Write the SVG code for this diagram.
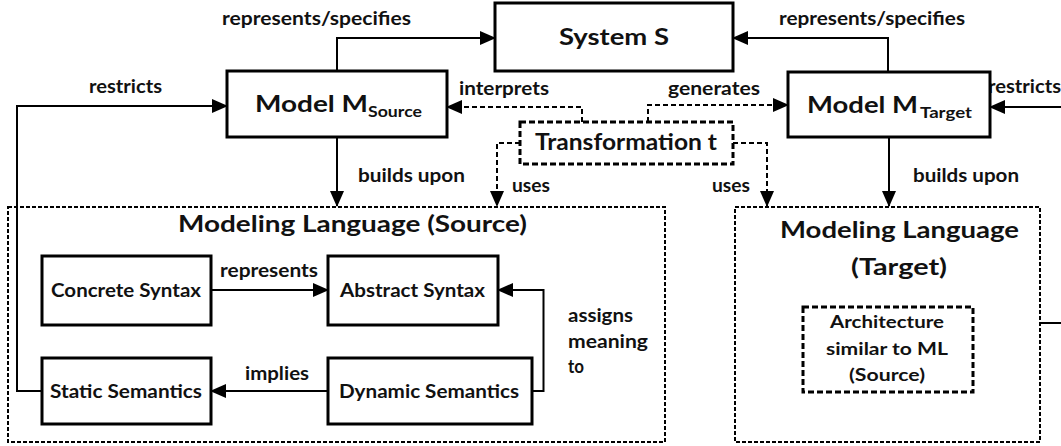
<svg xmlns="http://www.w3.org/2000/svg" width="1061" height="446" viewBox="0 0 1061 446">
<style>
text{font-family:Lato,"Open Sans","Liberation Sans",sans-serif;font-weight:bold;fill:#111}
.box{fill:#fff;stroke:#000;stroke-width:3}
.dbox{fill:none;stroke:#000;stroke-width:3;stroke-dasharray:6 3}
.cont{fill:none;stroke:#000;stroke-width:2;stroke-dasharray:4 2}
.ln{fill:none;stroke:#000;stroke-width:2}
.dl{fill:none;stroke:#000;stroke-width:2;stroke-dasharray:5 3}
.lbl{font-size:19px}
.nt{font-size:19px}
.big{font-size:23px}
.sub{font-size:16px}
.ttl{font-size:23.5px}
.arc{font-size:16.5px}
</style>
<defs>
<marker id="ah" markerUnits="userSpaceOnUse" markerWidth="16" markerHeight="14" refX="15" refY="7" orient="auto">
<path d="M0,0 L16,7 L0,14 Z" fill="#000"/>
</marker>
</defs>

<g id="ml-source">
<rect class="cont" x="8" y="207" width="657" height="235"/>
<text class="ttl" x="178" y="232" textLength="349" lengthAdjust="spacingAndGlyphs">Modeling Language (Source)</text>
</g>
<g id="ml-target">
<rect class="cont" x="735" y="207" width="305" height="235"/>
<text class="ttl" x="780" y="238" textLength="239" lengthAdjust="spacingAndGlyphs">Modeling Language</text>
<text class="ttl" x="851" y="275" textLength="96" lengthAdjust="spacingAndGlyphs">(Target)</text>
</g>

<g id="connectors">
<path class="ln" d="M337,71 V38 H495" marker-end="url(#ah)"/>
<path class="ln" d="M888,72 V38 H733" marker-end="url(#ah)"/>
<path class="ln" d="M42,391 H17 V106 H227" marker-end="url(#ah)"/>
<path class="ln" d="M1061,107 H990" marker-end="url(#ah)"/>
<path class="ln" d="M1040,323 H1061"/>
<path class="dl" d="M582,122 V107 H447" marker-end="url(#ah)"/>
<path class="dl" d="M648,122 V105 H788" marker-end="url(#ah)"/>
<path class="dl" d="M520,143 H497 V206" marker-end="url(#ah)"/>
<path class="dl" d="M733,143 H767 V206" marker-end="url(#ah)"/>
<path class="ln" d="M337,137 V206" marker-end="url(#ah)"/>
<path class="ln" d="M889,137 V206" marker-end="url(#ah)"/>
<path class="ln" d="M211,290 H328" marker-end="url(#ah)"/>
<path class="ln" d="M328,391 H211" marker-end="url(#ah)"/>
<path class="ln" d="M532,391 H543.5 V290 H498" marker-end="url(#ah)"/>
<text class="lbl" x="222" y="25" textLength="189" lengthAdjust="spacingAndGlyphs">represents/specifies</text>
<text class="lbl" x="779" y="25" textLength="186" lengthAdjust="spacingAndGlyphs">represents/specifies</text>
<text class="lbl" x="89" y="93" textLength="73" lengthAdjust="spacingAndGlyphs">restricts</text>
<text class="lbl" x="988" y="93" textLength="73" lengthAdjust="spacingAndGlyphs">restricts</text>
<text class="lbl" x="459" y="95" textLength="90" lengthAdjust="spacingAndGlyphs">interprets</text>
<text class="lbl" x="668" y="95" textLength="92" lengthAdjust="spacingAndGlyphs">generates</text>
<text class="lbl" x="512" y="192" textLength="38" lengthAdjust="spacingAndGlyphs">uses</text>
<text class="lbl" x="712" y="192" textLength="38" lengthAdjust="spacingAndGlyphs">uses</text>
<text class="lbl" x="358" y="182" textLength="107" lengthAdjust="spacingAndGlyphs">builds upon</text>
<text class="lbl" x="913" y="182" textLength="106" lengthAdjust="spacingAndGlyphs">builds upon</text>
<text class="lbl" x="220" y="277" textLength="98" lengthAdjust="spacingAndGlyphs">represents</text>
<text class="lbl" x="245" y="380" textLength="64" lengthAdjust="spacingAndGlyphs">implies</text>
<text class="lbl" x="568" y="322" textLength="65" lengthAdjust="spacingAndGlyphs">assigns</text>
<text class="lbl" x="568" y="348" textLength="80" lengthAdjust="spacingAndGlyphs">meaning</text>
<text class="lbl" x="568" y="373" textLength="16" lengthAdjust="spacingAndGlyphs">to</text>
</g>

<g id="system">
<rect class="box" x="495" y="3" width="238" height="68"/>
<text class="big" x="559" y="45" textLength="110" lengthAdjust="spacingAndGlyphs">System S</text>
</g>
<g id="model-source">
<rect class="box" x="227" y="71" width="220" height="66"/>
<text class="big" x="255" y="112" textLength="113" lengthAdjust="spacingAndGlyphs">Model M</text>
<text class="sub" x="368" y="117" textLength="54" lengthAdjust="spacingAndGlyphs">Source</text>
</g>
<g id="model-target">
<rect class="box" x="788" y="72" width="202" height="65"/>
<text class="big" x="807" y="113" textLength="111" lengthAdjust="spacingAndGlyphs">Model M</text>
<text class="sub" x="920" y="118" textLength="52" lengthAdjust="spacingAndGlyphs">Target</text>
</g>
<g id="transformation">
<rect x="520" y="122" width="213" height="42" fill="#fff" stroke="none"/>
<rect class="dbox" x="520" y="122" width="213" height="42"/>
<text class="big" x="535" y="150" textLength="182" lengthAdjust="spacingAndGlyphs">Transformation t</text>
</g>
<g id="concrete-syntax">
<rect class="box" x="42" y="256" width="169" height="69"/>
<text class="nt" x="51" y="297" textLength="150" lengthAdjust="spacingAndGlyphs">Concrete Syntax</text>
</g>
<g id="abstract-syntax">
<rect class="box" x="328" y="256" width="170" height="69"/>
<text class="nt" x="340" y="297" textLength="145" lengthAdjust="spacingAndGlyphs">Abstract Syntax</text>
</g>
<g id="static-semantics">
<rect class="box" x="42" y="358" width="169" height="66"/>
<text class="nt" x="50" y="398" textLength="152" lengthAdjust="spacingAndGlyphs">Static Semantics</text>
</g>
<g id="dynamic-semantics">
<rect class="box" x="328" y="358" width="204" height="66"/>
<text class="nt" x="339" y="398" textLength="180" lengthAdjust="spacingAndGlyphs">Dynamic Semantics</text>
</g>
<g id="architecture">
<rect class="dbox" x="803" y="307" width="170" height="85"/>
<text class="arc" x="830" y="328" textLength="114" lengthAdjust="spacingAndGlyphs">Architecture</text>
<text class="arc" x="826" y="355" textLength="122" lengthAdjust="spacingAndGlyphs">similar to ML</text>
<text class="arc" x="849" y="381" textLength="76" lengthAdjust="spacingAndGlyphs">(Source)</text>
</g>
</svg>
